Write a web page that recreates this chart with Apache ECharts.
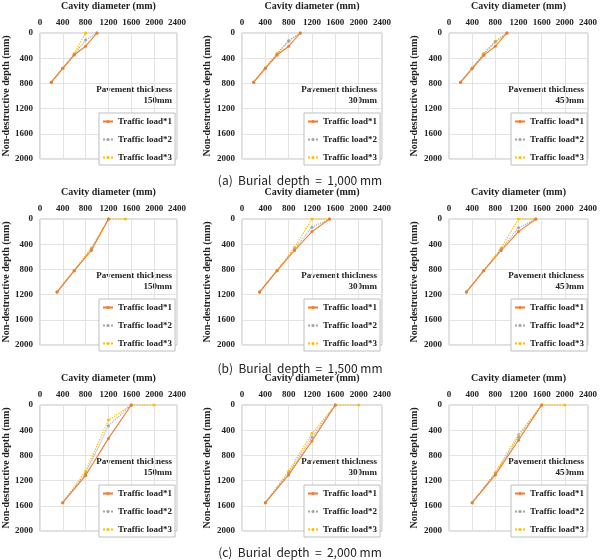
<!DOCTYPE html>
<html>
<head>
<meta charset="utf-8">
<script src="https://cdn.jsdelivr.net/npm/echarts@6/dist/echarts.min.js"></script>
<style>
  html, body { margin: 0; padding: 0; background: #fff; }
  #chart { width: 600px; height: 560px; }
</style>
</head>
<body>
<div id="chart"></div>
<script>
/**
 * data: each panel = [load*1, load*2, load*3], points are [cavity diameter, depth]
 */
var seriesNames = ["Traffic load*1", "Traffic load*2", "Traffic load*3"];
var thicknessLabels = ["150mm", "300mm", "450mm"];
var captions = ["(a)  Burial  depth  =  1,000 mm", "(b)  Burial  depth  =  1,500 mm", "(c)  Burial  depth  =  2,000 mm"];

var burial1000_t150 = [
    [[200, 780], [400, 560], [600, 350], [800, 210], [1000, 0]],
    [[200, 780], [400, 560], [600, 340], [800, 110], [1000, 0]],
    [[200, 780], [400, 560], [600, 330], [800, 0]]
];
var burial1000_t300 = [
    [[200, 780], [400, 560], [600, 350], [800, 210], [1000, 0]],
    [[200, 780], [400, 560], [600, 340], [800, 130], [1000, 0]],
    [[200, 780], [400, 550], [600, 320], [800, 120], [1000, 0]]
];
var burial1000_t450 = [
    [[200, 780], [400, 565], [600, 355], [800, 210], [1000, 0]],
    [[200, 780], [400, 560], [600, 340], [800, 140], [1000, 0]],
    [[200, 780], [400, 555], [600, 320], [800, 130], [1000, 0]]
];
var burial1500_t150 = [
    [[300, 1160], [600, 820], [900, 500], [1200, 0]],
    [[300, 1160], [600, 820], [900, 480], [1200, 0]],
    [[300, 1160], [600, 820], [900, 460], [1200, 0], [1500, 0]]
];
var burial1500_t300 = [
    [[300, 1160], [600, 820], [900, 500], [1200, 200], [1500, 0]],
    [[300, 1160], [600, 820], [900, 480], [1200, 130], [1500, 0]],
    [[300, 1160], [600, 820], [900, 450], [1200, 0], [1500, 0]]
];
var burial1500_t450 = [
    [[300, 1160], [600, 820], [900, 500], [1200, 200], [1500, 0]],
    [[300, 1160], [600, 820], [900, 480], [1200, 140], [1500, 0]],
    [[300, 1160], [600, 820], [900, 460], [1200, 0], [1500, 0]]
];
var burial2000_t150 = [
    [[400, 1550], [800, 1120], [1200, 530], [1600, 0]],
    [[400, 1550], [800, 1090], [1200, 330], [1600, 0]],
    [[400, 1550], [800, 1050], [1200, 240], [1600, 0], [2000, 0]]
];
var burial2000_t300 = [
    [[400, 1550], [800, 1110], [1200, 570], [1600, 0]],
    [[400, 1550], [800, 1080], [1200, 510], [1600, 0]],
    [[400, 1550], [800, 1050], [1200, 450], [1600, 0], [2000, 0]]
];
var burial2000_t450 = [
    [[400, 1550], [800, 1110], [1200, 560], [1600, 0]],
    [[400, 1550], [800, 1090], [1200, 510], [1600, 0]],
    [[400, 1550], [800, 1070], [1200, 470], [1600, 0], [2000, 0]]
];

var panels = [
    [burial1000_t150, burial1000_t300, burial1000_t450],
    [burial1500_t150, burial1500_t300, burial1500_t450],
    [burial2000_t150, burial2000_t300, burial2000_t450]
];

// layout (note: never name a global "top", it is window.top)
var colLeft = [37, 242, 449];
var rowTop = [33, 219, 405];
var captionY = [180, 368, 552];
var plotW = 140, plotH = 126;
var serifFont = "'Liberation Serif', 'Times New Roman', serif";

var lineColors = ["#ed7d31", "#a5a5a5", "#ffc000"];
var lineTypes = ["solid", "dotted", "dotted"];

var grids = [], xAxes = [], yAxes = [], series = [], legends = [], graphics = [];

function labelStyle(size) {
    return {fontFamily: serifFont, fontWeight: "bold", fontSize: size, color: "#222"};
}
function plainNumber(v) {
    return String(v);
}
// one right aligned line of text inside a panel
function panelText(text, x, y) {
    return {
        type: "text",
        style: {
            text: text, x: x, y: y,
            align: "right", verticalAlign: "middle",
            font: "bold 9px " + serifFont, fill: "#222"
        }
    };
}

for (var r = 0; r < 3; r++) {
    for (var c = 0; c < 3; c++) {
        var idx = grids.length;
        var gx = colLeft[c], gy = rowTop[r];
        grids.push({
            left: gx, top: gy, width: plotW, height: plotH,
            show: true, borderColor: "#bfbfbf", borderWidth: 1, backgroundColor: "#fff"
        });
        xAxes.push({
            type: "value", gridIndex: idx, position: "top",
            min: 0, max: 2400, interval: 400,
            name: "Cavity diameter (mm)", nameLocation: "middle", nameGap: 22,
            nameTextStyle: labelStyle(10),
            axisLine: {show: false}, axisTick: {show: false},
            axisLabel: Object.assign({margin: 6, formatter: plainNumber}, labelStyle(9)),
            splitLine: {lineStyle: {color: "#e3e3e3", width: 1}}
        });
        yAxes.push({
            type: "value", gridIndex: idx, inverse: true,
            min: 0, max: 2000, interval: 400,
            name: "Non-destructive depth (mm)", nameLocation: "middle",
            nameGap: c === 0 ? 26 : 30,
            nameTextStyle: labelStyle(10),
            axisLine: {show: false}, axisTick: {show: false},
            axisLabel: Object.assign({margin: 7, formatter: plainNumber}, labelStyle(9)),
            splitLine: {lineStyle: {color: "#e3e3e3", width: 1}}
        });
        var lines = panels[r][c];
        for (var s = 0; s < 3; s++) {
            series.push({
                type: "line", name: seriesNames[s],
                xAxisIndex: idx, yAxisIndex: idx,
                data: lines[s],
                color: lineColors[s],
                symbol: "circle", symbolSize: 3,
                lineStyle: {color: lineColors[s], width: s === 2 ? 1.3 : 1.1, type: lineTypes[s]},
                itemStyle: {color: lineColors[s]},
                animation: false, z: 5 - s
            });
        }
        legends.push({
            data: seriesNames, orient: "vertical",
            left: gx + 62, top: gy + 80,
            itemWidth: 10, itemHeight: 4, itemGap: 9,
            padding: [4, 3, 3, 3],
            borderColor: "#bfbfbf", borderWidth: 1, backgroundColor: "#fff",
            textStyle: labelStyle(9)
        });
        graphics.push(panelText("Pavement thickness", gx + 135, gy + 57));
        graphics.push(panelText(thicknessLabels[c], gx + 135, gy + 68));
    }
    graphics.push({
        type: "text",
        style: {
            text: captions[r], x: 300, y: captionY[r],
            align: "center", verticalAlign: "middle",
            font: "12px 'Noto Sans CJK KR', 'Noto Sans', sans-serif", fill: "#222"
        }
    });
}

var myChart = echarts.init(document.getElementById("chart"));
myChart.setOption({
    backgroundColor: "#fff",
    animation: false,
    grid: grids,
    xAxis: xAxes,
    yAxis: yAxes,
    legend: legends,
    series: series,
    graphic: graphics
});
</script>
</body>
</html>
